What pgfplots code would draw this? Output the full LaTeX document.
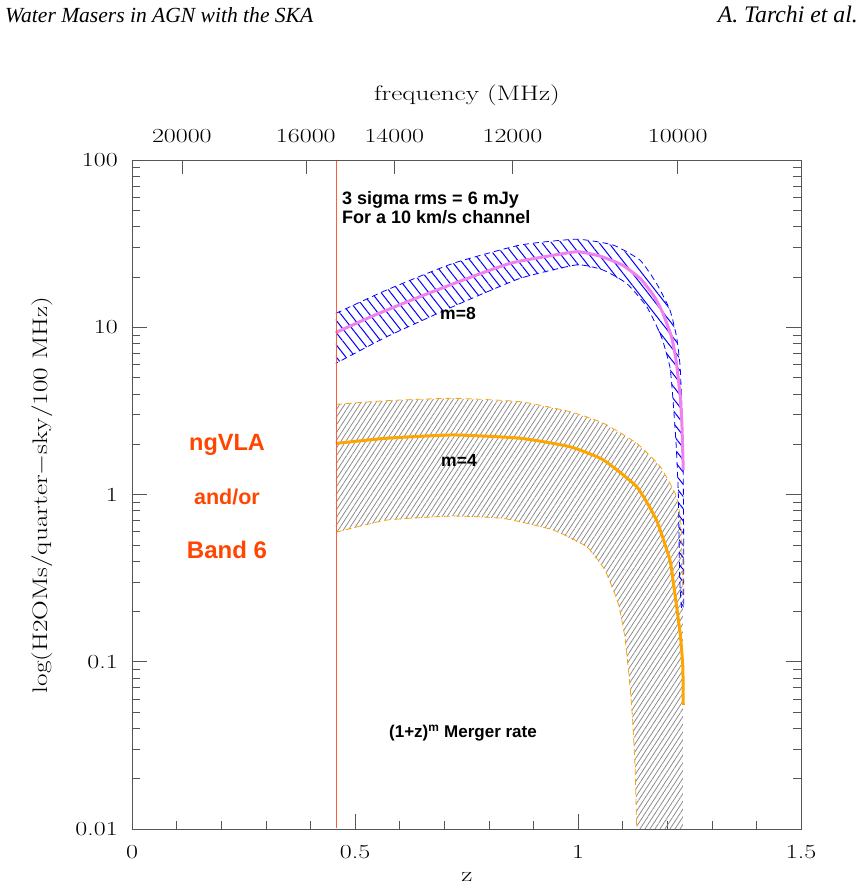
\documentclass[border=0pt]{standalone}
\usepackage{fontspec}
\usepackage{graphicx}
\usepackage{pgfplots}
\pgfplotsset{compat=1.18}
\usetikzlibrary{patterns.meta}
\newfontfamily\arial{Liberation Sans}
\newfontfamily\tnr{Liberation Serif}
\definecolor{bandlim}{RGB}{250,95,60}
\definecolor{ngred}{RGB}{255,69,0}
\definecolor{mviolet}{RGB}{238,130,238}
\definecolor{morange}{RGB}{255,165,0}
\definecolor{axgray}{RGB}{85,85,85}
\definecolor{hatchgray}{RGB}{135,135,135}
\newcommand{\pg}[1]{\scalebox{1.3}[1]{#1}}
\begin{document}
\begin{tikzpicture}
\path (-132pt,-60pt) rectangle (734pt,829pt);
\begin{axis}[
  at={(0pt,0pt)}, anchor=south west,
  scale only axis, width=669pt, height=669pt,
  xmin=0, xmax=1.5, ymode=log, ymin=0.01, ymax=100,
  xtick pos=left, ytick pos=both,
  xtick={0,0.5,1,1.5},
  minor xtick={0.1,0.2,0.3,0.4,0.6,0.7,0.8,0.9,1.1,1.2,1.3,1.4},
  xticklabels={{\pg{0}},{\pg{0.5}},{\pg{1}},{\pg{1.5}}},
  ytick={0.01,0.1,1,10,100},
  yticklabels={{\pg{0.01}},{\pg{0.1}},{\pg{1}},{\pg{10}},{\pg{100}}},
  tick align=inside,
  major tick length=15pt, minor tick length=8pt,
  tick style={axgray, line width=0.6pt},
  axis line style={axgray, line width=0.8pt},
  tick label style={font=\fontsize{20}{24}\selectfont},
  xticklabel style={inner sep=0pt, anchor=north, yshift=-16pt},
  yticklabel style={inner sep=0pt, anchor=east, xshift=-14pt},
]
% m=4 band (gray hatch)
\addplot[draw=none, pattern={Lines[angle=57,distance=4.2pt,line width=0.75pt]}, pattern color=hatchgray] coordinates {
(0.457,3.46) (0.571,3.64) (0.720,3.76) (0.870,3.59) (0.982,3.13) (1.057,2.67) (1.132,2.02) (1.184,1.47) (1.221,0.97) (1.232,0.614) (1.235,0.25) (1.235,0.01)
(1.1316,0.01) (1.128,0.0234) (1.122,0.0468) (1.115,0.0794) (1.105,0.141) (1.09,0.224) (1.06,0.355) (1.019,0.488) (0.944,0.614) (0.833,0.719) (0.72,0.743) (0.571,0.703) (0.457,0.594)
};
% m=8 band (blue hatch)
\addplot[draw=none, pattern={Lines[angle=-52,distance=7.5pt,line width=1pt]}, pattern color=blue] coordinates {
(0.457,12.1) (0.571,16.7) (0.720,24.1) (0.870,31.0) (0.997,33.6) (1.079,31.0) (1.139,25.2) (1.176,18.3) (1.206,12.7) (1.221,8.77) (1.229,5.81) (1.233,3.16) (1.236,1.26) (1.237,0.50) (1.237,0.21)
(1.232,0.21) (1.228,0.316) (1.225,1.0) (1.220,2.0) (1.212,3.98) (1.206,5.81) (1.187,8.77) (1.154,13.3) (1.109,18.3) (1.056,22.0) (0.997,23.6) (0.870,19.6) (0.720,13.3) (0.571,8.77) (0.457,6.08)
};
\addplot[morange, line width=0.8pt, dash pattern=on 6pt off 4pt, smooth, tension=0.3] coordinates {
(0.457,3.46) (0.571,3.64) (0.720,3.76) (0.870,3.59) (0.982,3.13) (1.057,2.67) (1.132,2.02) (1.184,1.47) (1.221,0.97) (1.232,0.614) (1.235,0.25)
};
\addplot[morange, line width=0.8pt, dash pattern=on 6pt off 4pt, smooth, tension=0.3] coordinates {
(0.457,0.594) (0.571,0.703) (0.72,0.743) (0.833,0.719) (0.944,0.614) (1.019,0.488) (1.06,0.355) (1.09,0.224) (1.105,0.141) (1.115,0.0794) (1.122,0.0468) (1.128,0.0234) (1.1316,0.01)
};
\addplot[blue, line width=0.8pt, dash pattern=on 6pt off 4pt, smooth, tension=0.3] coordinates {
(0.457,12.1) (0.571,16.7) (0.720,24.1) (0.870,31.0) (0.997,33.6) (1.079,31.0) (1.139,25.2) (1.176,18.3) (1.206,12.7) (1.221,8.77) (1.229,5.81) (1.233,3.16) (1.236,1.26) (1.237,0.50) (1.237,0.21)
};
\addplot[blue, line width=0.8pt, dash pattern=on 6pt off 4pt, smooth, tension=0.3] coordinates {
(1.232,0.21) (1.228,0.316) (1.225,1.0) (1.220,2.0) (1.212,3.98) (1.206,5.81) (1.187,8.77) (1.154,13.3) (1.109,18.3) (1.056,22.0) (0.997,23.6) (0.870,19.6) (0.720,13.3) (0.571,8.77) (0.457,6.08)
};
% centre curves
\addplot[morange, line width=3pt, smooth, tension=0.3] coordinates {
(0.457,2.02) (0.571,2.17) (0.720,2.27) (0.870,2.17) (0.982,1.93) (1.057,1.61) (1.132,1.11) (1.176,0.703) (1.206,0.406) (1.214,0.294) (1.229,0.148) (1.235,0.0933) (1.236,0.055)
};
\addplot[mviolet, line width=3pt, smooth, tension=0.3] coordinates {
(0.457,9.3) (0.55,12.0) (0.65,15.4) (0.75,19.5) (0.85,24.2) (0.95,27.1) (1.00,28.3) (1.05,26.6) (1.10,23.5) (1.14,19.5) (1.17,15.4) (1.19,12.2) (1.21,8.7) (1.22,6.3) (1.229,3.9) (1.233,2.6) (1.236,1.4)
};
% band limit
\addplot[bandlim, line width=1.3pt, smooth, tension=0.3] coordinates {
(0.458,0.0101) (0.458,1) (0.458,99)
};
\end{axis}
% top frequency axis
\begin{axis}[
  at={(0pt,0pt)}, anchor=south west,
  scale only axis, width=669pt, height=669pt,
  xmin=0, xmax=1.5, ymode=log, ymin=0.01, ymax=100,
  axis x line*=top, axis y line=none,
  xtick={0.11175,0.389688,0.588214,0.852917,1.2235},
  xticklabels={{\pg{20000}},{\pg{16000}},{\pg{14000}},{\pg{12000}},{\pg{10000}}},
  minor xtick={},
  tick align=inside, major tick length=14pt,
  tick style={axgray, line width=0.6pt},
  axis line style={axgray, line width=0.8pt},
  tick label style={font=\fontsize{20}{24}\selectfont},
  xticklabel style={inner sep=0pt, anchor=south, yshift=17pt},
]
\addplot[draw=none, mark=none] coordinates {(0.2,1)};
\end{axis}
% axis titles
\node[font=\fontsize{21}{25}\selectfont] at (335pt,734pt) {\pg{frequency (MHz)}};
\node[font=\fontsize{21}{25}\selectfont] at (335pt,-48pt) {\pg{z}};
\node[font=\fontsize{21}{25}\selectfont, rotate=90] at (-90pt,334pt) {\pg{log(H2OMs/quarter$-$sky/100 MHz)}};
% header
\node[anchor=base west, inner sep=0pt] at (-127pt,806pt) {\resizebox{308pt}{!}{\tnr\itshape Water Masers in AGN with the SKA}};
\node[anchor=base east, inner sep=0pt] at (726pt,806pt) {\resizebox{140pt}{!}{\tnr\itshape A. Tarchi et al.}};
% annotations
\node[anchor=base west, inner sep=0pt, font=\arial\bfseries\fontsize{18}{21}\selectfont] at (210pt,624.7pt) {3 sigma rms = 6 mJy};
\node[anchor=base west, inner sep=0pt, font=\arial\bfseries\fontsize{18}{21}\selectfont] at (210pt,605pt) {For a 10 km/s channel};
\node[inner sep=0pt, font=\arial\bfseries\fontsize{17.5}{21}\selectfont] at (326pt,516pt) {m=8};
\node[inner sep=0pt, font=\arial\bfseries\fontsize{17.5}{21}\selectfont] at (327pt,369pt) {m=4};
\node[inner sep=0pt, text=ngred, font=\arial\bfseries\fontsize{23.5}{27}\selectfont] at (95pt,384pt) {ngVLA};
\node[inner sep=0pt, text=ngred, font=\arial\bfseries\fontsize{21.5}{25}\selectfont] at (95pt,332pt) {and/or};
\node[inner sep=0pt, text=ngred, font=\arial\bfseries\fontsize{24}{28}\selectfont] at (95pt,279pt) {Band 6};
\node[inner sep=0pt, font=\arial\bfseries\fontsize{17}{20}\selectfont] at (331pt,96pt) {(1+z)\textsuperscript{m} Merger rate};
\end{tikzpicture}
\end{document}
